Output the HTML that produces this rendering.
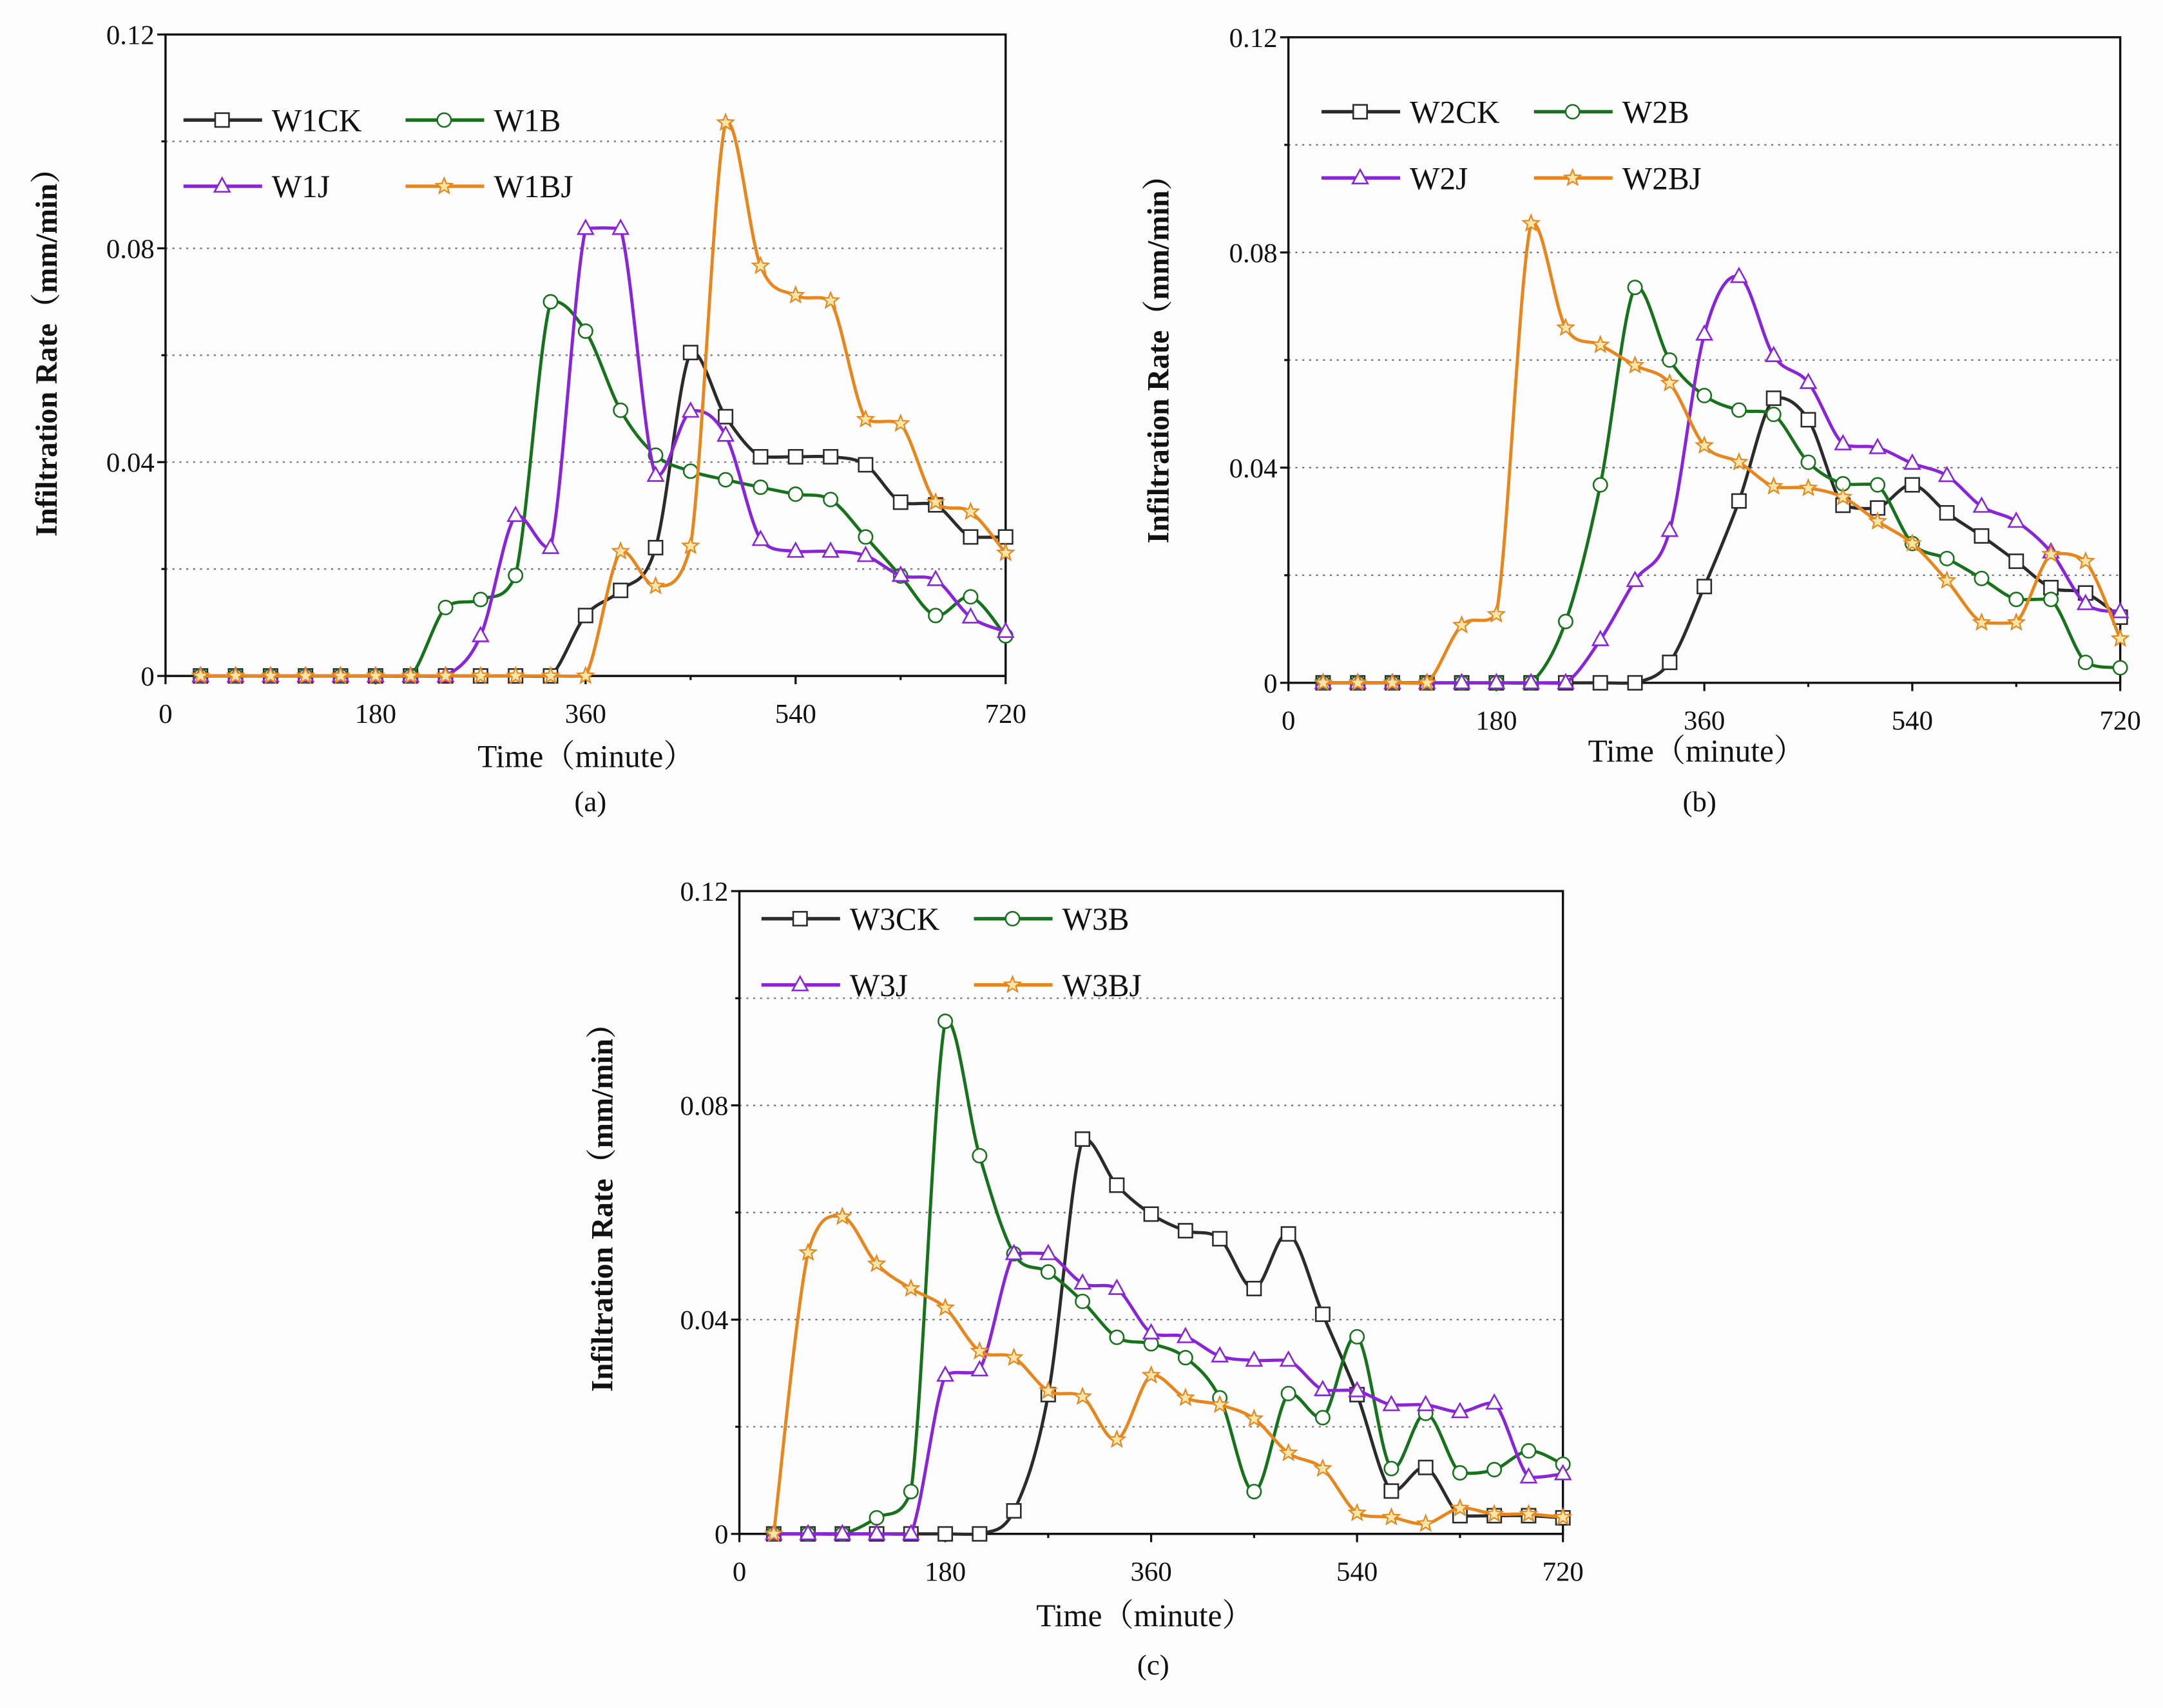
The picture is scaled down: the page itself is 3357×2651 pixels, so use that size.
<!DOCTYPE html>
<html><head><meta charset="utf-8"><style>
html,body{margin:0;padding:0;background:#fcfcfc;}
svg{display:block;}
text{font-family:"Liberation Serif","Noto Serif CJK SC",serif;fill:#111;}
</style></head><body>
<svg id="fig" width="3357" height="2651" viewBox="0 0 1568 1238.2" xmlns="http://www.w3.org/2000/svg"></svg>
<script>
const times=[30,60,90,120,150,180,210,240,270,300,330,360,390,420,450,480,510,540,570,600,630,660,690,720];
const yTicks=[0,0.04,0.08,0.12];
const yGrid=[0.02,0.04,0.06,0.08,0.10];
const xTicks=[0,180,360,540,720];
const xMinor=[90,270,450,630];
// Panel (a)
const w1ck=[0,0,0,0,0,0,0,0,0,0,0,0.0113,0.016,0.024,0.0605,0.0485,0.041,0.041,0.041,0.0395,0.0325,0.032,0.026,0.026];
const w1b=[0,0,0,0,0,0,0,0.0128,0.0143,0.0188,0.070,0.0645,0.0497,0.0413,0.0383,0.0367,0.0353,0.034,0.033,0.026,0.0187,0.0113,0.0148,0.0075];
const w1j=[0,0,0,0,0,0,0,0,0.0075,0.030,0.024,0.0837,0.0837,0.0375,0.0495,0.045,0.0255,0.0233,0.0233,0.0225,0.0188,0.018,0.011,0.0083];
const w1bj=[0,0,0,0,0,0,0,0,0,0,0,0,0.0233,0.0168,0.0243,0.1035,0.0767,0.0712,0.0702,0.048,0.0472,0.0325,0.0307,0.023];
// Panel (b)
const w2ck=[0,0,0,0,0,0,0,0,0,0,0.0038,0.0179,0.0338,0.0529,0.0489,0.033,0.0325,0.0368,0.0316,0.0273,0.0226,0.0177,0.0167,0.0122];
const w2b=[0,0,0,0,0,0,0,0.0114,0.0368,0.0735,0.060,0.0534,0.0507,0.0499,0.041,0.037,0.0368,0.0259,0.0231,0.0194,0.0155,0.0155,0.0038,0.0028];
const w2j=[0,0,0,0,0,0,0,0,0.008,0.019,0.0283,0.0648,0.0755,0.0608,0.0558,0.0444,0.0437,0.0408,0.0385,0.0328,0.030,0.0243,0.0147,0.0132];
const w2bj=[0,0,0,0,0.0107,0.0127,0.0854,0.066,0.0628,0.059,0.0557,0.0441,0.041,0.0365,0.0362,0.0345,0.030,0.0259,0.019,0.0112,0.0112,0.0239,0.0226,0.0082];
// Panel (c)
const w3ck=[0,0,0,0,0,0,0,0.0043,0.026,0.0737,0.0651,0.0597,0.0566,0.0551,0.0458,0.056,0.041,0.026,0.008,0.0124,0.0034,0.0034,0.0034,0.003];
const w3b=[0,0,0,0.003,0.0079,0.0957,0.0706,0.0523,0.0489,0.0434,0.0367,0.0355,0.0329,0.0254,0.0079,0.0262,0.0217,0.0368,0.0122,0.0225,0.0114,0.012,0.0155,0.013];
const w3j=[0,0,0,0,0,0.0296,0.0306,0.0523,0.0523,0.0468,0.0458,0.0375,0.0368,0.0332,0.0324,0.0324,0.0269,0.0267,0.0241,0.0241,0.0228,0.0244,0.0106,0.0112];
const w3bj=[0,0.0525,0.0592,0.0504,0.0458,0.0422,0.0341,0.0329,0.0267,0.0256,0.0176,0.0296,0.0254,0.0241,0.0215,0.0151,0.0122,0.0039,0.0031,0.0019,0.0048,0.0037,0.0037,0.0031];

const NS="http://www.w3.org/2000/svg";
const svg=document.getElementById('fig');
function el(tag,attrs,parent){const e=document.createElementNS(NS,tag);for(const k in attrs)e.setAttribute(k,attrs[k]);(parent||svg).appendChild(e);return e;}
const COLORS={ck:'#2b2b2b',b:'#16731c',j:'#8a24d8',bj:'#e8861c'};
const MFILL={ck:'#ffffff',b:'#ffffff',j:'#ffffff',bj:'#f7e6a8'};

function marker(kind,x,y,g){
  const c=COLORS[kind],s=5;let m;
  if(kind==='ck'){m=el('rect',{x:x-s,y:y-s,width:2*s,height:2*s,fill:MFILL.ck,stroke:c,'stroke-width':1.2},g);}
  else if(kind==='b'){m=el('circle',{cx:x,cy:y,r:s,fill:MFILL.b,stroke:c,'stroke-width':1.2},g);}
  else if(kind==='j'){m=el('polygon',{points:`${x},${y-6} ${x+5.5},${y+4} ${x-5.5},${y+4}`,fill:MFILL.j,stroke:c,'stroke-width':1.2},g);}
  else {let p=[];for(let i=0;i<10;i++){const a=-Math.PI/2+i*Math.PI/5;const r=i%2?2.6:6;p.push((x+r*Math.cos(a)).toFixed(2)+','+(y+r*Math.sin(a)).toFixed(2));}
    m=el('polygon',{points:p.join(' '),fill:MFILL.bj,stroke:c,'stroke-width':1},g);}
  return m;
}
function clampY(v,a,b){const lo=Math.min(a,b),hi=Math.max(a,b),pad=(hi-lo)*0.08+0.6;return Math.max(lo-pad,Math.min(hi+pad,v));}
function splinePath(pts){
  let d=`M${pts[0][0]},${pts[0][1]}`;
  for(let i=0;i<pts.length-1;i++){
    const p0=pts[Math.max(0,i-1)],p1=pts[i],p2=pts[i+1],p3=pts[Math.min(pts.length-1,i+2)];
    const t=0.5/3;
    const c1x=p1[0]+(p2[0]-p0[0])*t,c1y=clampY(p1[1]+(p2[1]-p0[1])*t,p1[1],p2[1]);
    const c2x=p2[0]-(p3[0]-p1[0])*t,c2y=clampY(p2[1]-(p3[1]-p1[1])*t,p1[1],p2[1]);
    d+=` C${c1x.toFixed(2)},${c1y.toFixed(2)} ${c2x.toFixed(2)},${c2y.toFixed(2)} ${p2[0].toFixed(2)},${p2[1].toFixed(2)}`;
  }
  return d;
}

function panel(cfg){
  const {id,x0,x1,y0,y1,series,names,leg,ylab,xlab,cap}=cfg;
  const g=el('g',{});
  
  
  const sx=t=>x0+(x1-x0)*t/720, sy=v=>y0+(y1-y0)*v/0.12;
  yGrid.forEach(v=>{const l=el('line',{x1:x0,x2:x1,y1:sy(v),y2:sy(v),stroke:'#777','stroke-width':1.1,'stroke-dasharray':'1.5,3.5'},g);
    });
  const fr=el('path',{d:`M${x0},${y0} L${x0},${y1} L${x1},${y1} L${x1},${y0} L${x0},${y0}`,fill:'none',stroke:'#111','stroke-width':1.6},g);
  
  yTicks.forEach(v=>{el('line',{x1:x0-6,x2:x0,y1:sy(v),y2:sy(v),stroke:'#111','stroke-width':1.5},g);
    const t=el('text',{x:x0-8,y:sy(v)+7,'text-anchor':'end','font-size':20},g);t.textContent=v===0?'0':v.toFixed(2);
    });
  [0.02,0.06,0.10].forEach(v=>el('line',{x1:x0-3,x2:x0,y1:sy(v),y2:sy(v),stroke:'#111','stroke-width':1.5},g));
  xTicks.forEach(v=>{el('line',{x1:sx(v),x2:sx(v),y1:y0,y2:y0+6,stroke:'#111','stroke-width':1.5},g);
    const t=el('text',{x:sx(v),y:y0+34,'text-anchor':'middle','font-size':20},g);t.textContent=v;
    });
  xMinor.forEach(v=>el('line',{x1:sx(v),x2:sx(v),y1:y0,y2:y0+3,stroke:'#111','stroke-width':1.5},g));
  const kinds=['ck','b','j','bj'];
  kinds.forEach((k,i)=>{
    const vals=series[i];const pts=times.map((t,j)=>[sx(t),sy(vals[j])]);
    const sg=el('g',{},g);
    
    
    el('path',{d:splinePath(pts),fill:'none',stroke:COLORS[k],'stroke-width':2.3,'stroke-linejoin':'round'},sg);
    pts.forEach(p=>{const m=marker(k,p[0],p[1],sg);});
  });
  const lg=el('g',{},g);
  
  
  kinds.forEach((k,i)=>{
    const lx=leg[0]+(i%2)*leg[2], ly=leg[1]+Math.floor(i/2)*48;
    const eg=el('g',{},lg);
    
    
    el('line',{x1:lx,x2:lx+57,y1:ly,y2:ly,stroke:COLORS[k],'stroke-width':2.5},eg);
    marker(k,lx+28,ly,eg);
    const t=el('text',{x:lx+64,y:ly+8,'font-size':23},eg);t.textContent=names[i];
  });
  const yl=el('text',{x:0,y:0,'font-size':22,'font-weight':'bold','text-anchor':'middle',transform:`translate(${ylab[0]},${ylab[1]}) rotate(-90)`},g);
  yl.textContent='Infiltration Rate（mm/min）';
  
  const xl=el('text',{x:xlab[0],y:xlab[1],'font-size':23,'text-anchor':'middle'},g);
  xl.textContent='Time（minute）';
  
  const cp=el('text',{x:cap[0],y:cap[1],'font-size':21,'text-anchor':'middle'},g);
  cp.textContent='('+id+')';
  
}
panel({id:'a',x0:120,x1:729,y0:490,y1:25,series:[w1ck,w1b,w1j,w1bj],names:['W1CK','W1B','W1J','W1BJ'],leg:[133,87,161],ylab:[41,250],xlab:[425,556],cap:[428,588]});
panel({id:'b',x0:934,x1:1537,y0:495,y1:27,series:[w2ck,w2b,w2j,w2bj],names:['W2CK','W2B','W2J','W2BJ'],leg:[958,81,154],ylab:[847,255],xlab:[1230,552],cap:[1232,588]});
panel({id:'c',x0:536,x1:1133,y0:1112,y1:646,series:[w3ck,w3b,w3j,w3bj],names:['W3CK','W3B','W3J','W3BJ'],leg:[552,666,154],ylab:[444,870],xlab:[830,1179],cap:[836,1214]});
</script>
</body></html>
